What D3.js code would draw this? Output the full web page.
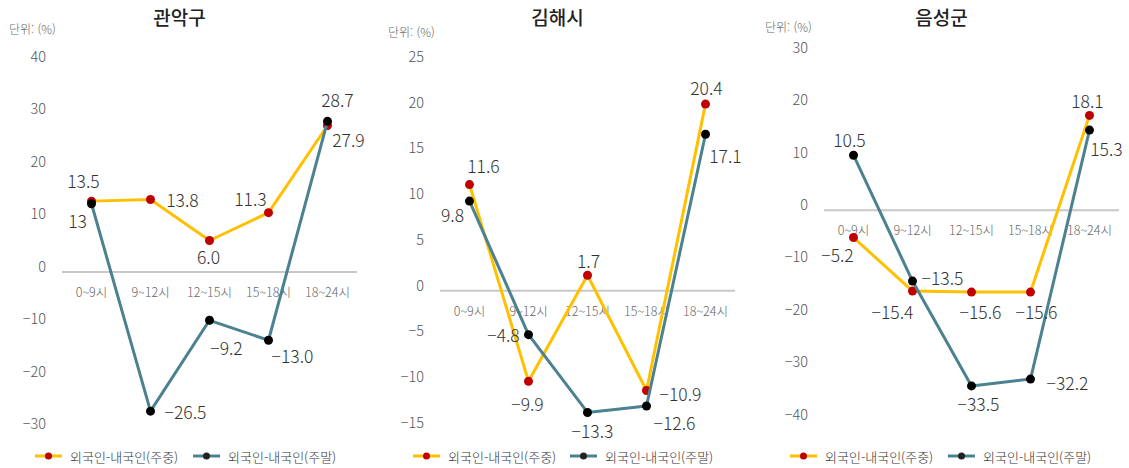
<!DOCTYPE html>
<html lang="ko">
<head>
<meta charset="utf-8">
<script src="https://cdn.jsdelivr.net/npm/d3@7"></script>
<style>
  html, body { margin: 0; padding: 0; background: #fff; }
  svg { display: block; font-family: "Noto Sans CJK KR", "Noto Sans", sans-serif; }
</style>
</head>
<body>
<svg id="chart" width="1129" height="468"></svg>
<script>
// Time slots shared by all three regions
const timeSlots = ["0~9시", "9~12시", "12~15시", "15~18시", "18~24시"];
const seriesNames = ["외국인-내국인(주중)", "외국인-내국인(주말)"];
const regionNames = ["관악구", "김해시", "음성군"];

// Difference in share (foreigners minus natives), %
const gwanakWeekday = [13.5, 13.8, 6.0, 11.3, 27.9];
const gwanakWeekend = [13, -26.5, -9.2, -13.0, 28.7];
const gimhaeWeekday = [11.6, -9.9, 1.7, -10.9, 20.4];
const gimhaeWeekend = [9.8, -4.8, -13.3, -12.6, 17.1];
const eumseongWeekday = [-5.2, -15.4, -15.6, -15.6, 18.1];
const eumseongWeekend = [10.5, -13.5, -33.5, -32.2, 15.3];

// Y-axis tick values per region
const gwanakTicks = [-30, -20, -10, 0, 10, 20, 30, 40];
const gimhaeTicks = [-15, -10, -5, 0, 5, 10, 15, 20, 25];
const eumseongTicks = [-40, -30, -20, -10, 0, 10, 20, 30];

// Panel geometry
const panels = [
  { x0: 62,  x1: 357,  yTop: 62,  yBot: 429.5, tickX: 46,  unitX: 9,   unitY: 28, legendX: 35,  legend2X: 193 },
  { x0: 440, x1: 735,  yTop: 62,  yBot: 428,   tickX: 424, unitX: 388, unitY: 31, legendX: 413, legend2X: 570 },
  { x0: 824, x1: 1119, yTop: 53,  yBot: 420,   tickX: 808, unitX: 765, unitY: 26, legendX: 790, legend2X: 948 }
];

// Value label offsets [dx, dy] relative to each point
const weekdayLabelOffsets = [
  [[-8, -21], [32, 0], [-1, 16], [-18, -14], [21, 14]],
  [[14, -19], [-1, 22], [1, -15], [34, 3], [1, -17]],
  [[-16, 17], [-20, 20], [9, 19], [6, 19], [-2, -15]]
];
const weekendLabelOffsets = [
  [[-14, 17], [35, 0], [17, 27], [24, 15], [10, -22]],
  [[-17, 13], [-25, 0], [5, 18], [28, 16], [20, 21]],
  [[-4, -16], [30, -4], [7, 18], [37, 3], [17, 18]]
];

const regions = [
  { name: regionNames[0], weekday: gwanakWeekday, weekend: gwanakWeekend, ticks: gwanakTicks },
  { name: regionNames[1], weekday: gimhaeWeekday, weekend: gimhaeWeekend, ticks: gimhaeTicks },
  { name: regionNames[2], weekday: eumseongWeekday, weekend: eumseongWeekend, ticks: eumseongTicks }
];

const colors = {
  weekdayLine: "#FFC000",
  weekdayDot: "#C00000",
  weekendLine: "#4C8290",
  weekendDot: "#000000"
};

const svg = d3.select("#chart");
const fmt = d3.format(".1f");
// Whole-number entry "13" is shown without a decimal place
const labelText = v => (Number.isInteger(v) && v === 13) ? "13" : fmt(v);

regions.forEach((r, i) => {
  const p = panels[i];
  const g = svg.append("g");
  const ticks = r.ticks;

  const x = d3.scaleBand().domain(timeSlots).range([p.x0, p.x1]);
  const y = d3.scaleLinear().domain([d3.min(ticks), d3.max(ticks)]).range([p.yBot, p.yTop]);
  const cx = d => x(d) + x.bandwidth() / 2;

  // Title
  g.append("text")
    .attr("x", (p.x0 + p.x1) / 2 - 30)
    .attr("y", 16)
    .attr("text-anchor", "middle")
    .attr("dominant-baseline", "central")
    .attr("font-size", 19)
    .attr("font-weight", 500)
    .attr("fill", "#222")
    .text(r.name);

  // Unit note
  g.append("text")
    .attr("x", p.unitX)
    .attr("y", p.unitY)
    .attr("dominant-baseline", "central")
    .attr("font-size", 12)
    .attr("font-weight", 300)
    .attr("fill", "#666")
    .text("단위: (%)");

  // Y-axis labels (no axis line)
  const yAxis = d3.axisLeft(y).tickValues(ticks).tickSize(0).tickPadding(0);
  const ya = g.append("g").attr("transform", `translate(${p.tickX},0)`).call(yAxis);
  ya.select(".domain").remove();
  ya.selectAll("text")
    .attr("font-size", 14.5)
    .attr("font-weight", 300)
    .attr("fill", "#555")
    .attr("font-family", "'Noto Sans CJK KR', sans-serif")
    .attr("dy", "-0.05em");

  // Zero baseline
  g.append("line")
    .attr("x1", p.x0).attr("x2", p.x1)
    .attr("y1", y(0)).attr("y2", y(0))
    .attr("stroke", "#C8C8C8")
    .attr("stroke-width", 2);

  // Category labels just below the zero line
  const xAxis = d3.axisBottom(x).tickSize(0).tickPadding(0);
  const xa = g.append("g").attr("transform", `translate(0,${y(0) + 21})`).call(xAxis);
  xa.select(".domain").remove();
  xa.selectAll("text")
    .attr("font-size", 12.5)
    .attr("font-weight", 300)
    .attr("fill", "#666")
    .attr("font-family", "'Noto Sans CJK KR', sans-serif")
    .attr("dy", "0.32em");

  const line = d3.line().x((d, j) => cx(timeSlots[j])).y(d => y(d));

  const drawSeries = (values, lineColor, dotColor) => {
    g.append("path")
      .datum(values)
      .attr("d", line)
      .attr("fill", "none")
      .attr("stroke", lineColor)
      .attr("stroke-width", 3)
      .attr("stroke-linejoin", "round");
    g.selectAll(null)
      .data(values)
      .join("circle")
      .attr("cx", (d, j) => cx(timeSlots[j]))
      .attr("cy", d => y(d))
      .attr("r", 4.5)
      .attr("fill", dotColor);
  };
  const drawLabels = (values, offsets) => {
    g.selectAll(null)
      .data(values)
      .join("text")
      .attr("x", (d, j) => cx(timeSlots[j]) + offsets[j][0])
      .attr("y", (d, j) => y(d) + offsets[j][1])
      .attr("text-anchor", "middle")
      .attr("dominant-baseline", "central")
      .attr("font-size", 17.5)
      .attr("font-weight", 300)
      .attr("fill", "#333")
      .text(d => labelText(d));
  };

  drawSeries(r.weekday, colors.weekdayLine, colors.weekdayDot);
  drawSeries(r.weekend, colors.weekendLine, colors.weekendDot);
  drawLabels(r.weekday, weekdayLabelOffsets[i]);
  drawLabels(r.weekend, weekendLabelOffsets[i]);

  // Legend
  const legendY = 456;
  const legendItems = [
    { name: seriesNames[0], lx: p.legendX, line: colors.weekdayLine, dot: colors.weekdayDot },
    { name: seriesNames[1], lx: p.legend2X, line: colors.weekendLine, dot: "#222" }
  ];
  legendItems.forEach(it => {
    g.append("line")
      .attr("x1", it.lx).attr("x2", it.lx + 27)
      .attr("y1", legendY).attr("y2", legendY)
      .attr("stroke", it.line).attr("stroke-width", 3);
    g.append("circle")
      .attr("cx", it.lx + 13.5).attr("cy", legendY).attr("r", 3.5)
      .attr("fill", it.dot);
    g.append("text")
      .attr("x", it.lx + 35)
      .attr("y", legendY)
      .attr("dominant-baseline", "central")
      .attr("font-size", 13)
      .attr("font-weight", 300)
      .attr("fill", "#333")
      .text(it.name);
  });
});
</script>
</body>
</html>
